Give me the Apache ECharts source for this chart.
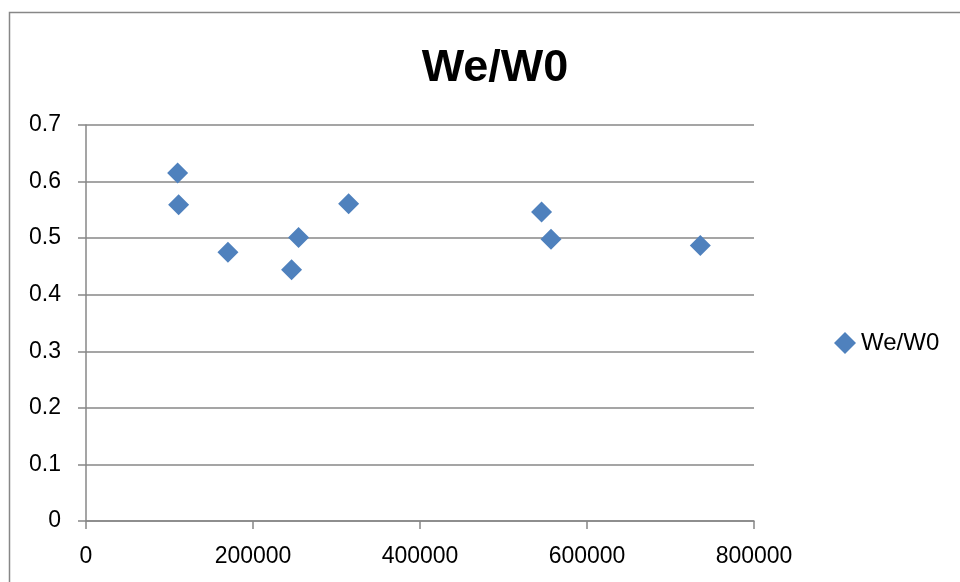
<!DOCTYPE html>
<html>
<head>
<meta charset="utf-8">
<script src="https://cdn.jsdelivr.net/npm/echarts@6/dist/echarts.min.js"></script>
<style>
  html, body { margin: 0; padding: 0; background: #fff; }
  #chart { width: 960px; height: 582px; }
</style>
</head>
<body>
<div id="chart"></div>
<script>
// Measured samples: x value and We/W0 ratio
const seriesName = 'We/W0';
const xValues = [109700, 110900, 170000, 246200, 254600, 314500, 545600, 556900, 735700];
const yValues = [0.615, 0.559, 0.475, 0.444, 0.501, 0.561, 0.546, 0.498, 0.487];
const xTicks = [0, 200000, 400000, 600000, 800000];
const yTicks = [0, 0.1, 0.2, 0.3, 0.4, 0.5, 0.6, 0.7];

const points = xValues.map((x, i) => [x, yValues[i]]);
const font = '"Liberation Sans", Arial, sans-serif';
const gray = '#878787';

const chart = echarts.init(document.getElementById('chart'), null, { renderer: 'canvas' });
chart.setOption({
  animation: false,
  backgroundColor: '#fff',
  title: {
    text: seriesName,
    left: 490,
    textAlign: 'center',
    top: 41,
    textStyle: { fontFamily: font, fontWeight: 'bold', fontSize: 45, color: '#000' }
  },
  legend: {
    data: [{ name: seriesName, icon: 'diamond' }],
    left: 829,
    top: 326,
    itemWidth: 22,
    itemHeight: 22,
    itemGap: 6,
    textStyle: { fontFamily: font, fontSize: 24, color: '#000' }
  },
  graphic: [{
    type: 'rect',
    shape: { x: 9.5, y: 12.5, width: 1200, height: 1200 },
    style: { fill: 'none', stroke: gray, lineWidth: 1.5 },
    silent: true,
    z: -1
  }],
  grid: { left: 86, right: 206, top: 125, bottom: 61, containLabel: false },
  xAxis: {
    type: 'value',
    min: xTicks[0],
    max: xTicks[xTicks.length - 1],
    interval: 200000,
    axisLine: { show: true, onZero: false, lineStyle: { color: gray, width: 1.5 } },
    axisTick: { show: true, length: 8, lineStyle: { color: gray, width: 1.5 } },
    axisLabel: { fontFamily: font, fontSize: 23, color: '#000', margin: 24,
      formatter: v => String(v) },
    splitLine: { show: false }
  },
  yAxis: {
    type: 'value',
    min: yTicks[0],
    max: yTicks[yTicks.length - 1],
    interval: 0.1,
    axisLine: { show: true, lineStyle: { color: gray, width: 1.5 } },
    axisTick: { show: true, length: 8, lineStyle: { color: gray, width: 1.5 } },
    axisLabel: { fontFamily: font, fontSize: 23, color: '#000', margin: 25,
      formatter: v => String(Math.round(v * 10) / 10) },
    splitLine: { show: true, lineStyle: { color: gray, width: 1.5 } }
  },
  series: [{
    name: seriesName,
    type: 'scatter',
    symbol: 'diamond',
    symbolSize: 21,
    itemStyle: { color: '#4F81BD', opacity: 1 },
    data: points
  }]
});
</script>
</body>
</html>
